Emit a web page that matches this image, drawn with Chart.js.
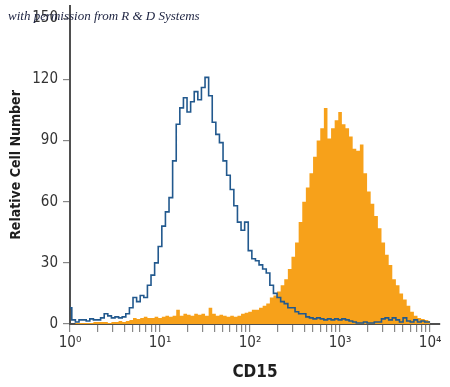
<!DOCTYPE html>
<html lang="en">
<head>
  <meta charset="UTF-8">
  <title>CD15</title>
  <script src="https://cdn.jsdelivr.net/npm/chart.js"></script>
</head>
<style>
  html, body {
    margin: 0;
    padding: 0;
    background: #ffffff;
  }

  .wrap {
    width: 450px;
    height: 387px;
    position: relative;
  }
</style>
<body>

<div class="wrap">
  <canvas id="histChart" width="450" height="387"></canvas>
</div>

<script>
  // bin centres, in decades (10^e)
  const binExp = [
    0.00, 0.04, 0.08, 0.12, 0.16, 0.20, 0.24, 0.28, 0.32, 0.36,
    0.40, 0.44, 0.48, 0.52, 0.56, 0.60, 0.64, 0.68, 0.72, 0.76,
    0.80, 0.84, 0.88, 0.92, 0.96, 1.00, 1.04, 1.08, 1.12, 1.16,
    1.20, 1.24, 1.28, 1.32, 1.36, 1.40, 1.44, 1.48, 1.52, 1.56,
    1.60, 1.64, 1.68, 1.72, 1.76, 1.80, 1.84, 1.88, 1.92, 1.96,
    2.00, 2.04, 2.08, 2.12, 2.16, 2.20, 2.24, 2.28, 2.32, 2.36,
    2.40, 2.44, 2.48, 2.52, 2.56, 2.60, 2.64, 2.68, 2.72, 2.76,
    2.80, 2.84, 2.88, 2.92, 2.96, 3.00, 3.04, 3.08, 3.12, 3.16,
    3.20, 3.24, 3.28, 3.32, 3.36, 3.40, 3.44, 3.48, 3.52, 3.56,
    3.60, 3.64, 3.68, 3.72, 3.76, 3.80, 3.84, 3.88, 3.92, 3.96,
    4.00
  ];

  // isotype control (blue outline)
  const isotypeCounts = [
    8, 2, 1, 2, 2, 1.5, 2.5, 2, 2, 3,
    5, 4, 3, 3.5, 3, 3.5, 5, 8, 13, 11,
    14, 13, 19, 24, 30, 38, 48, 55, 62, 80,
    98, 106, 111, 104, 109, 114, 110, 116, 121, 112,
    99, 93, 89, 80, 73, 66, 58, 50, 46, 50,
    36, 32, 31, 29, 27, 25, 19, 15, 13, 11,
    10, 8, 8, 6, 5, 5, 3.5, 3, 2.5, 3,
    2.5, 2, 2.5, 2, 2.5, 2, 2.5, 2, 1.5, 1,
    0.5, 0.5, 1, 0.5, 0.5, 1, 1, 2.5, 3, 2,
    3, 2, 1, 3, 1.5, 1, 2, 1, 1.5, 1,
    1
  ];

  // CD15 stained (orange fill)
  const cd15Counts = [
    0, 0, 0.5, 0.5, 0.5, 0.5, 0.5, 1, 1, 1,
    1, 0.5, 1, 1, 1.5, 1, 1.5, 2, 3, 2.5,
    3, 3.5, 3, 3, 3.5, 3, 3.5, 4, 3.5, 4,
    7, 4, 5, 4.5, 4, 5, 4.5, 5, 4, 8,
    5, 4, 4.5, 4, 3.5, 4, 3.5, 4, 5, 5.5,
    6, 7, 7, 8, 9, 10, 13, 14, 16, 19,
    22, 27, 33, 40, 50, 60, 67, 74, 82, 90,
    96, 106, 91, 96, 100, 104, 98, 96, 92, 86,
    85, 88, 74, 65, 59, 53, 47, 40, 34, 29,
    22, 19, 15, 12, 9, 6, 4, 3, 2.5, 2,
    1.5
  ];

  const xMajorTicks = [1, 10, 100, 1000, 10000];
  const xTickLabels = ['10⁰', '10¹', '10²', '10³', '10⁴'];
  const yTicks = [0, 30, 60, 90, 120, 150];

  const toPoints = counts => counts.map((c, i) => ({ x: Math.pow(10, binExp[i]), y: c }));

  // minor ticks 2..9 inside each decade
  const xAllTicks = [];
  xMajorTicks.forEach(m => {
    xAllTicks.push(m);
    if (m < 10000) {
      for (let k = 2; k <= 9; k++) xAllTicks.push(m * k);
    }
  });

  const narrow = '"Liberation Sans Narrow", "DejaVu Sans Condensed", sans-serif';

  const watermark = {
    id: 'watermark',
    afterDraw(chart) {
      const ctx = chart.ctx;
      ctx.save();
      ctx.font = 'italic 13px "Liberation Serif", "DejaVu Serif", serif';
      ctx.fillStyle = '#1c2240';
      ctx.textBaseline = 'middle';
      ctx.fillText('with permission from R & D Systems', 8, 17);
      ctx.restore();
    }
  };

  const ctx = document.getElementById('histChart').getContext('2d');
  const histChart = new Chart(ctx, {
    type: 'line',
    data: {
      datasets: [{
        label: 'Isotype control',
        data: toPoints(isotypeCounts),
        borderColor: '#22598e',
        borderWidth: 1.6,
        stepped: 'middle',
        fill: false,
        pointRadius: 0
      },
      {
        label: 'CD15',
        data: toPoints(cd15Counts),
        borderColor: '#f7a11a',
        backgroundColor: '#f7a11a',
        borderWidth: 0,
        stepped: 'middle',
        fill: 'origin',
        pointRadius: 0
      }]
    },
    options: {
      responsive: false,
      animation: false,
      layout: {
        padding: { top: 6, right: 10, bottom: 0, left: 0 }
      },
      plugins: {
        legend: { display: false },
        tooltip: { enabled: false }
      },
      scales: {
        x: {
          type: 'logarithmic',
          min: 1,
          max: Math.pow(10, 4.11),
          afterBuildTicks: scale => {
            scale.ticks = xAllTicks.map(v => ({ value: v }));
          },
          afterFit: scale => {
            scale.height = 63;
            scale.paddingLeft = 0;
            scale.paddingRight = 0;
          },
          border: { display: true, color: '#4f4f4f', width: 2 },
          grid: { drawOnChartArea: false, drawTicks: true, tickLength: 8, color: '#888', lineWidth: 1.2 },
          ticks: {
            autoSkip: false,
            maxRotation: 0,
            padding: 2,
            color: '#333',
            font: { family: narrow, size: 15 },
            callback: value => {
              const idx = xMajorTicks.indexOf(value);
              return idx >= 0 ? xTickLabels[idx] : '';
            }
          },
          title: {
            display: true,
            text: 'CD15',
            color: '#1e1e1e',
            font: { family: narrow, size: 17, weight: 'bold' },
            padding: { top: 0, bottom: 4 }
          }
        },
        y: {
          min: 0,
          max: 156,
          afterBuildTicks: scale => {
            scale.ticks = yTicks.map(v => ({ value: v }));
          },
          afterFit: scale => {
            scale.width = 70;
            scale.paddingTop = 0;
            scale.paddingBottom = 0;
          },
          border: { display: true, color: '#4f4f4f', width: 2 },
          grid: { drawOnChartArea: false, drawTicks: true, tickLength: 7, color: '#888', lineWidth: 1.2 },
          ticks: {
            padding: 5,
            color: '#333',
            font: { family: narrow, size: 15 }
          },
          title: {
            display: true,
            text: 'Relative Cell Number',
            color: '#1e1e1e',
            font: { family: narrow, size: 14, weight: 'bold' },
            padding: { top: 8, bottom: 0 }
          }
        }
      }
    },
    plugins: [watermark]
  });
</script>
</body>
</html>
